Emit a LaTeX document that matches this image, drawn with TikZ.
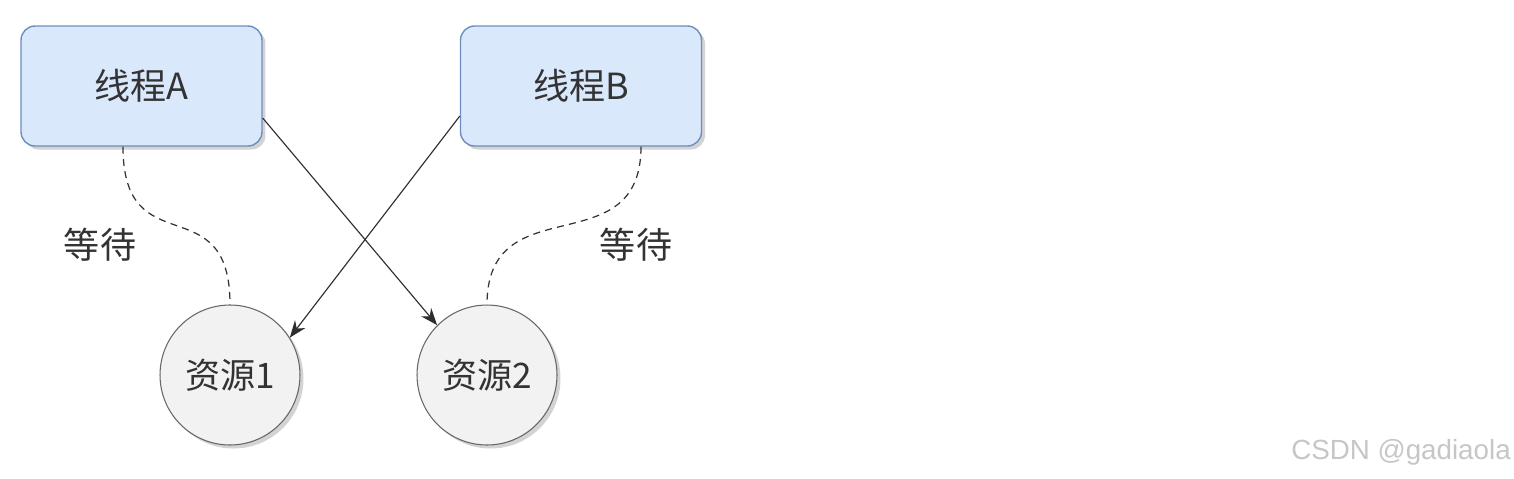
\documentclass[tikz,border=0pt]{standalone}
\usepackage{fontspec}
\usetikzlibrary{arrows.meta,positioning,shadows}
\newfontfamily\cjk{Noto Sans CJK SC}
\newfontfamily\wmfont{Liberation Sans}
\definecolor{boxfill}{HTML}{DAE8FC}
\definecolor{boxline}{HTML}{6C8EBF}
\definecolor{resfill}{HTML}{F2F2F2}
\definecolor{resline}{HTML}{666666}
\definecolor{ink}{HTML}{333333}
\tikzset{thread/.style={draw=boxline,fill=boxfill,rounded corners=8pt,line width=0.8pt,
  minimum width=4.82cm,minimum height=2.4cm,text=ink,font=\cjk\fontsize{20.5}{24}\selectfont,
  drop shadow={shadow xshift=2pt,shadow yshift=-2pt,opacity=0.35}},
  res/.style={circle,draw=resline,fill=resfill,line width=0.6pt,minimum size=2.8cm,inner sep=0pt,
  text=ink,font=\cjk\fontsize{20}{24}\selectfont,
  drop shadow={shadow xshift=2pt,shadow yshift=-2pt,opacity=0.35}},
  hold/.style={-{Stealth[length=3.4mm,width=2.6mm]},line width=0.65pt,draw=ink!90!black},
  wait/.style={dash pattern=on 4pt off 3pt,line width=0.7pt,draw=ink},
  lbl/.style={text=ink,font=\cjk\fontsize{20.5}{24}\selectfont}}

\begin{document}
\begin{tikzpicture}[x=0.02cm,y=-0.02cm]
\useasboundingbox (0,0) rectangle (1514,478);
\node[thread] (ta) at (141.5,86) {线程A};
\node[thread] (tb) at (581,86) {线程B};
\node[res] (r1) at (230,375) {资源1};
\node[res] (r2) at (487,375) {资源2};
\node[lbl] (w1) at (100,245) {等待};
\node[lbl] (w2) at (636,245) {等待};
% held resources cross over
\draw[hold] ([yshift=-0.64cm]ta.east)--(r2.135);
\draw[hold] ([yshift=-0.6cm]tb.west)--(r1.32);
% waiting
\draw[wait] ([xshift=-0.37cm]ta.south) .. controls +(0,120) and +(0,-120) .. (r1.north);
\draw[wait] ([xshift=1.2cm]tb.south) .. controls +(0,120) and +(0,-120) .. (r2.north);
\node[text=gray!45,font=\wmfont\fontsize{15.8}{18}\selectfont] (wm) at (1401,452) {CSDN @gadiaola};
\end{tikzpicture}
\end{document}
